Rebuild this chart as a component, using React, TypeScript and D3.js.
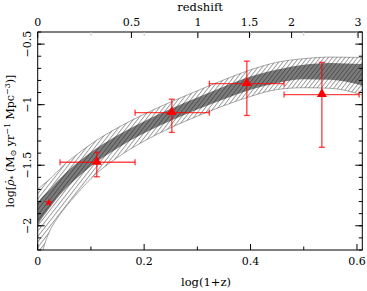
import React from "react";
import * as d3 from "d3";

// fit band (log(1+z) vs log sfr density)
const bandX = [0, 0.01, 0.02, 0.035, 0.05, 0.075, 0.1, 0.15, 0.2, 0.25, 0.3, 0.35, 0.4, 0.45, 0.5, 0.55, 0.61];
const outerHi = [-1.70, -1.66, -1.625, -1.56, -1.495, -1.407, -1.325, -1.191, -1.078, -0.978, -0.885, -0.795, -0.712, -0.65, -0.62, -0.607, -0.61];
const innerHi = [-1.805, -1.755, -1.713, -1.64, -1.574, -1.478, -1.392, -1.253, -1.136, -1.034, -0.94, -0.849, -0.767, -0.71, -0.67, -0.655, -0.665];
const innerLo = [-1.995, -1.925, -1.867, -1.78, -1.706, -1.602, -1.508, -1.359, -1.236, -1.132, -1.04, -0.955, -0.877, -0.822, -0.79, -0.795, -0.842];
const outerLo = [-2.42, -2.2, -2.07, -1.95, -1.86, -1.73, -1.61, -1.436, -1.301, -1.19, -1.095, -1.008, -0.932, -0.875, -0.86, -0.865, -0.92];

// triangles with error bars
const ptX = [0.111, 0.252, 0.393, 0.534];
const ptY = [-1.476, -1.066, -0.826, -0.917];
const ptXLo = [0.042, 0.183, 0.3226, 0.463];
const ptXHi = [0.183, 0.3226, 0.463, 0.604];
const ptYLo = [-1.595, -1.229, -1.089, -1.352];
const ptYHi = [-1.393, -0.955, -0.641, -0.651];

// local point (star)
const starX = 0.0207;
const starY = -1.808;

const xTicks = [0, 0.2, 0.4, 0.6];
const xMinor = [0.1, 0.3, 0.5];
const yTicks = [-0.5, -1, -1.5, -2];
const yMinor = d3.range(-2.2, -0.39, 0.1);
const zTicks = [0, 0.5, 1, 1.5, 2, 3];
const zFaint = [0.1, 0.2, 0.3, 0.4, 0.5, 0.6];

const W = 367;
const H = 291;
const L = 37.7, R = 362.3, T = 32, B = 250;
const font = "'DejaVu Serif', serif";
const red = "#ff0000";

export default function App() {
  const x = d3.scaleLinear().domain([0, 0.61]).range([L, R]);
  const y = d3.scaleLinear().domain([-2.2, -0.4]).range([B, T]);

  const rows = bandX.map((v, i) => ({ x: v, oh: outerHi[i], ih: innerHi[i], il: innerLo[i], ol: outerLo[i] }));
  const outerArea = d3.area<any>().x(d => x(d.x)).y0(d => y(d.ol)).y1(d => y(d.oh)).curve(d3.curveMonotoneX);
  const innerArea = d3.area<any>().x(d => x(d.x)).y0(d => y(d.il)).y1(d => y(d.ih)).curve(d3.curveMonotoneX);
  const edge = (k: string) => d3.line<any>().x(d => x(d.x)).y(d => y(d[k])).curve(d3.curveMonotoneX)(rows) || "";

  const tri = d3.symbol().type(d3.symbolTriangle).size(44)() || "";
  const star = d3.symbol().type(d3.symbolStar).size(20)() || "";
  const cap = 3;

  return (
    <svg width={W} height={H} style={{ position: "absolute", left: 0, top: 0, background: "#fff" }}>
      <defs>
        <clipPath id="plot">
          <rect x={L} y={T} width={R - L} height={B - T} />
        </clipPath>
        <pattern id="hatch" patternUnits="userSpaceOnUse" width={3.3} height={10} patternTransform="rotate(38)">
          <rect width={3.3} height={10} fill="#fff" />
          <line x1={0.5} y1={0} x2={0.5} y2={10} stroke="#444" strokeWidth={0.55} />
        </pattern>
        <pattern id="hatchDark" patternUnits="userSpaceOnUse" width={3.3} height={10} patternTransform="rotate(38)">
          <rect width={3.3} height={10} fill="#7c7c7c" />
          <line x1={0.5} y1={0} x2={0.5} y2={10} stroke="#3c3c3c" strokeWidth={0.7} />
        </pattern>
      </defs>

      <g clipPath="url(#plot)">
        <path d={outerArea(rows) || ""} fill="url(#hatch)" />
        <path d={edge("oh")} fill="none" stroke="#555" strokeWidth={0.5} />
        <path d={edge("ol")} fill="none" stroke="#555" strokeWidth={0.5} />
        <path d={innerArea(rows) || ""} fill="url(#hatchDark)" />
      </g>

      {/* frame */}
      <rect x={L} y={T} width={R - L} height={B - T} fill="none" stroke="#000" strokeWidth={1} />

      {/* bottom axis */}
      {xTicks.map(t => (
        <g key={"xt" + t}>
          <line x1={x(t)} x2={x(t)} y1={B} y2={B - 6} stroke="#000" />
          <text x={x(t)} y={265} fontFamily={font} fontSize={11} textAnchor="middle">{t === 0 ? "0" : String(t)}</text>
        </g>
      ))}
      {xMinor.map(t => (
        <line key={"xm" + t} x1={x(t)} x2={x(t)} y1={B} y2={B - 3.5} stroke="#000" />
      ))}
      <text x={(L + R) / 2 + 6} y={286} fontFamily={font} fontSize={11.5} textAnchor="middle">log(1+z)</text>

      {/* top axis: redshift */}
      {zFaint.map(t => (
        <line key={"zf" + t} x1={x(t)} x2={x(t)} y1={T} y2={T + 4} stroke="#ccc" />
      ))}
      {zTicks.map(z => (
        <g key={"zt" + z}>
          <line x1={x(Math.log10(1 + z))} x2={x(Math.log10(1 + z))} y1={T} y2={T + 6} stroke="#000" />
          <text x={x(Math.log10(1 + z))} y={26} fontFamily={font} fontSize={11} textAnchor="middle">{String(z)}</text>
        </g>
      ))}
      <text x={(L + R) / 2} y={11} fontFamily={font} fontSize={11.5} textAnchor="middle">redshift</text>

      {/* left / right axes */}
      {yMinor.map((t, i) => (
        <g key={"ym" + i}>
          <line x1={L} x2={L + 3.5} y1={y(t)} y2={y(t)} stroke="#000" />
          <line x1={R} x2={R - 3.5} y1={y(t)} y2={y(t)} stroke="#000" />
        </g>
      ))}
      {yTicks.map(t => (
        <g key={"yt" + t}>
          <line x1={L} x2={L + 7} y1={y(t)} y2={y(t)} stroke="#000" />
          <line x1={R} x2={R - 7} y1={y(t)} y2={y(t)} stroke="#000" />
          <text transform={`translate(30.5,${y(t)}) rotate(-90)`} fontFamily={font} fontSize={11} textAnchor="middle">
            {"\u2212" + String(Math.abs(t))}
          </text>
        </g>
      ))}
      <text transform={`translate(13.5,${(T + B) / 2}) rotate(-90)`} fontFamily={font} fontSize={11} textAnchor="middle">
        log[<tspan fontStyle="italic">ρ̇</tspan>
        <tspan dy={2.5} fontSize={8}>*</tspan>
        <tspan dy={-2.5}> (M</tspan>
        <tspan dy={2.5} fontSize={8}>⊙</tspan>
        <tspan dy={-2.5}> yr</tspan>
        <tspan dy={-4} fontSize={8}>−1</tspan>
        <tspan dy={4}> Mpc</tspan>
        <tspan dy={-4} fontSize={8}>−3</tspan>
        <tspan dy={4}>)]</tspan>
      </text>

      {/* data points */}
      <g>
        {ptX.map((px, i) => (
          <g key={"p" + i} stroke={red} strokeOpacity={0.72} strokeWidth={1.4}>
            <line x1={x(ptXLo[i])} x2={x(ptXHi[i])} y1={y(ptY[i])} y2={y(ptY[i])} />
            <line x1={x(ptXLo[i])} x2={x(ptXLo[i])} y1={y(ptY[i]) - cap} y2={y(ptY[i]) + cap} />
            <line x1={x(ptXHi[i])} x2={x(ptXHi[i])} y1={y(ptY[i]) - cap} y2={y(ptY[i]) + cap} />
            <line x1={x(px)} x2={x(px)} y1={y(ptYLo[i])} y2={y(ptYHi[i])} />
            <line x1={x(px) - cap} x2={x(px) + cap} y1={y(ptYLo[i])} y2={y(ptYLo[i])} />
            <line x1={x(px) - cap} x2={x(px) + cap} y1={y(ptYHi[i])} y2={y(ptYHi[i])} />
            <path d={tri} transform={`translate(${x(px)},${y(ptY[i]) - 0.5})`} fill={red} stroke="none" />
          </g>
        ))}
        <path d={star} transform={`translate(${x(starX)},${y(starY)})`} fill={red} />
      </g>
    </svg>
  );
}
